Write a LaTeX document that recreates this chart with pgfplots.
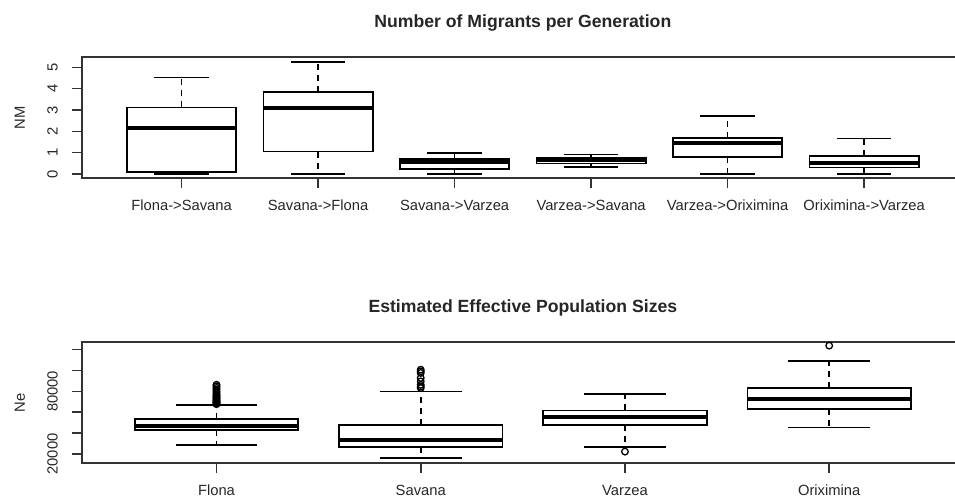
\documentclass[border=0pt]{standalone}
\usepackage{fontspec}
\setmainfont{Liberation Sans}
\usepackage{pgfplots}
\pgfplotsset{compat=1.18}
\usepgfplotslibrary{statistics}

\pgfplotsset{
  rbox/.style={
    scale only axis, width=882.3bp, height=121bp,
    axis line style={line width=1.6bp, black!80},
    tick style={line width=1.6bp, black!80},
    tick align=outside, major tick length=10bp,
    xtick pos=bottom, ytick pos=left,
    scaled y ticks=false,
    tick label style={font=\fontsize{14.8}{16}\selectfont, text=black!85},
    xticklabel style={anchor=north, inner sep=0pt, outer sep=0pt, outer ysep=12bp},
    yticklabel style={rotate=90, anchor=south, inner sep=0pt, outer sep=0pt, outer ysep=14bp},
    title style={at={(0.5,1)}, anchor=base, yshift=24bp, inner sep=0pt,
      font=\fontsize{17.7}{20}\selectfont\bfseries, text=black!85},
    every axis y label/.style={at={(axis description cs:-0.0643,0.5)},
      rotate=90, anchor=base, inner sep=0pt,
      font=\fontsize{14.8}{16}\selectfont, text=black!85},
    boxplot/draw direction=y,
    boxplot/box extend=0.8,
    boxplot/whisker extend=0.4,
    boxplot/every median/.style={line width=4bp},
    boxplot/draw/lower whisker/.code={%
      \draw[dash pattern=on 6bp off 5bp]
        (boxplot box cs:\pgfplotsboxplotvalue{lower quartile},0.5)
        -- (boxplot box cs:\pgfplotsboxplotvalue{lower whisker},0.5);
      \draw (boxplot whisker cs:\pgfplotsboxplotvalue{lower whisker},0)
        -- (boxplot whisker cs:\pgfplotsboxplotvalue{lower whisker},1);
    },
    boxplot/draw/upper whisker/.code={%
      \draw[dash pattern=on 6bp off 5bp]
        (boxplot box cs:\pgfplotsboxplotvalue{upper quartile},0.5)
        -- (boxplot box cs:\pgfplotsboxplotvalue{upper whisker},0.5);
      \draw (boxplot whisker cs:\pgfplotsboxplotvalue{upper whisker},0)
        -- (boxplot whisker cs:\pgfplotsboxplotvalue{upper whisker},1);
    },
  },
  bx/.style={black, solid, line width=1.7bp, mark=none},
  outl/.style={black, only marks, mark=o, mark size=3.3bp,
    mark options={solid, line width=1.3bp}},
}

\begin{document}
\begin{tikzpicture}
% number of migrants
\begin{axis}[rbox, at={(81.7bp,319.7bp)}, anchor=south west,
  xmin=0.268, xmax=6.732, ymin=-0.20, ymax=5.47,
  xtick={1,...,6},
  xticklabels={Flona->Savana, Savana->Flona, Savana->Varzea, Varzea->Savana, Varzea->Oriximina, Oriximina->Varzea},
  ytick={0,...,5}, yticklabels={0,1,2,3,4,5},
  ylabel={NM},
  title={Number of Migrants per Generation}]
  \addplot[bx, boxplot prepared={draw position=1, lower whisker=0.0, lower quartile=0.11, median=2.14, upper quartile=3.12, upper whisker=4.53}] coordinates {};
  \addplot[bx, boxplot prepared={draw position=2, lower whisker=0.0, lower quartile=1.05, median=3.08, upper quartile=3.86, upper whisker=5.26}] coordinates {};
  \addplot[bx, boxplot prepared={draw position=3, lower whisker=0.0, lower quartile=0.22, median=0.58, upper quartile=0.72, upper whisker=0.98}] coordinates {};
  \addplot[bx, boxplot prepared={draw position=4, lower whisker=0.34, lower quartile=0.50, median=0.64, upper quartile=0.78, upper whisker=0.92}] coordinates {};
  \addplot[bx, boxplot prepared={draw position=5, lower whisker=0.0, lower quartile=0.81, median=1.47, upper quartile=1.70, upper whisker=2.72}] coordinates {};
  \addplot[bx, boxplot prepared={draw position=6, lower whisker=0.0, lower quartile=0.30, median=0.53, upper quartile=0.86, upper whisker=1.67}] coordinates {};
\end{axis}
% effective population sizes, values in units of 10000
\begin{axis}[rbox, at={(81.7bp,34.7bp)}, anchor=south west,
  xmin=0.34, xmax=4.66, ymin=1.1, ymax=12.7,
  xtick={1,...,4},
  xticklabels={Flona, Savana, Varzea, Oriximina},
  ytick={2,4,6,8,10,12},
  yticklabels={20000,{},{},80000,{},{}},
  ylabel={Ne},
  title={Estimated Effective Population Sizes}]
  \addplot[bx, boxplot prepared={draw position=1, lower whisker=2.865, lower quartile=4.31, median=4.69, upper quartile=5.34, upper whisker=6.71}] coordinates {};
  \addplot[bx, boxplot prepared={draw position=2, lower whisker=1.586, lower quartile=2.64, median=3.346, upper quartile=4.79, upper whisker=7.99}] coordinates {};
  \addplot[bx, boxplot prepared={draw position=3, lower whisker=2.64, lower quartile=4.788, median=5.53, upper quartile=6.164, upper whisker=7.77}] coordinates {};
  \addplot[bx, boxplot prepared={draw position=4, lower whisker=4.53, lower quartile=6.30, median=7.26, upper quartile=8.32, upper whisker=10.94}] coordinates {};
  % outliers
  \addplot[outl] coordinates {(1,8.63) (1,8.48) (1,8.32) (1,8.15) (1,7.99) (1,7.85) (1,7.70) (1,7.60) (1,7.50) (1,7.40) (1,7.30) (1,7.20) (1,7.10) (1,7.02) (1,6.95) (1,6.88) (1,6.82) (1,6.77)};
  \addplot[outl] coordinates {(2,10.077) (2,9.92) (2,9.76) (2,9.28) (2,8.95) (2,8.63) (2,8.47) (2,8.317)};
  \addplot[outl] coordinates {(3,2.22) (4,12.38)};
\end{axis}
\pgfresetboundingbox
\useasboundingbox (0,0) rectangle (955bp,498bp);
\end{tikzpicture}
\end{document}
